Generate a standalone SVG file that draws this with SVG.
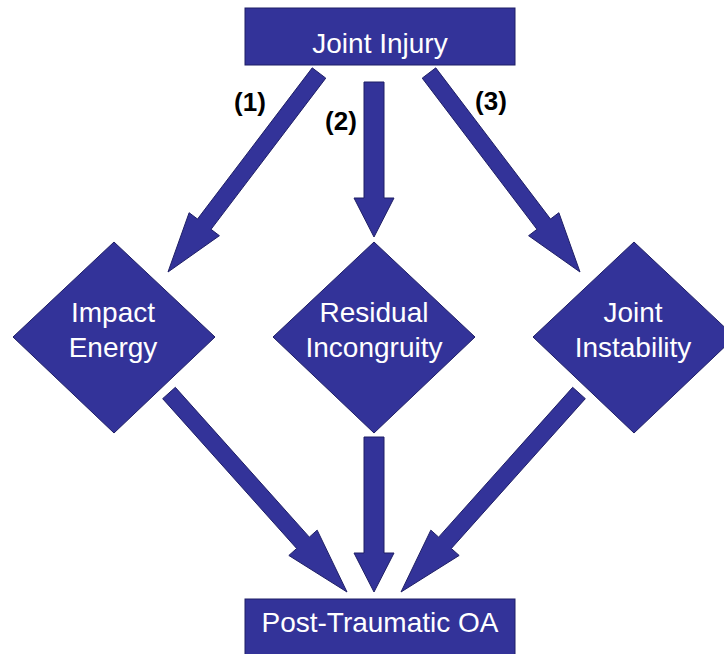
<svg xmlns="http://www.w3.org/2000/svg" width="724" height="654" viewBox="0 0 724 654">
<style>
.shape{fill:#333399;stroke:#1f1f66;stroke-width:1}
.lbl{fill:#ffffff;font-family:"Liberation Sans",Arial,sans-serif;font-size:28px;text-anchor:middle}
.num{fill:#000000;font-family:"Liberation Sans",Arial,sans-serif;font-size:26px;font-weight:bold;text-anchor:middle}
</style>
<rect width="724" height="654" fill="#ffffff"/>
<g id="connectors">
<polygon class="shape" points="312.23,67.86 197.5,219.06 189.13,212.71 168,272 219.41,235.69 211.04,229.34 325.77,78.14"/>
<polygon class="shape" points="364,82 364,198 354,198 374,237 394,198 384,198 384,82"/>
<polygon class="shape" points="435.77,67.86 550.5,219.06 558.87,212.71 580,272 528.59,235.69 536.96,229.34 422.23,78.14"/>
<polygon class="shape" points="162.67,398.67 296.67,548.48 288.84,555.48 347,592 317.16,530.14 309.34,537.14 175.34,387.33"/>
<polygon class="shape" points="364,437 364,553 354,553 374,592 394,553 384,553 384,437"/>
<polygon class="shape" points="585.33,398.67 451.33,548.48 459.16,555.48 401,592 430.84,530.14 438.66,537.14 572.66,387.33"/>
<text class="num" x="250" y="111">(1)</text>
<text class="num" x="341" y="130">(2)</text>
<text class="num" x="491" y="110">(3)</text>
</g>
<g id="joint-injury">
<rect class="shape" x="245" y="8" width="270" height="57"/>
<text class="lbl" x="380" y="53">Joint Injury</text>
</g>
<g id="impact-energy">
<polygon class="shape" points="114,242 215,337 114,433 13,337"/>
<text class="lbl" x="113" y="322">Impact</text>
<text class="lbl" x="113" y="357">Energy</text>
</g>
<g id="residual-incongruity">
<polygon class="shape" points="374,242 475,337 374,433 273,337"/>
<text class="lbl" x="374" y="322">Residual</text>
<text class="lbl" x="374" y="357">Incongruity</text>
</g>
<g id="joint-instability">
<polygon class="shape" points="634,242 735,337 634,433 533,337"/>
<text class="lbl" x="633" y="322">Joint</text>
<text class="lbl" x="633" y="357">Instability</text>
</g>
<g id="post-traumatic-oa">
<rect class="shape" x="245" y="599" width="270" height="62"/>
<text class="lbl" x="380" y="632">Post-Traumatic OA</text>
</g>
</svg>
